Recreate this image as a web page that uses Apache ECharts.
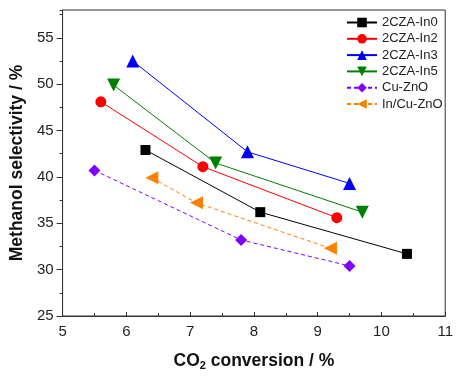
<!DOCTYPE html>
<html><head><meta charset="utf-8">
<script src="https://cdn.jsdelivr.net/npm/echarts@6/dist/echarts.min.js"></script>
<style>html,body{margin:0;padding:0;background:#fff}#c{width:456px;height:376px}</style>
</head><body><div id="c"></div>
<script>
const seriesNames = ['2CZA-In0','2CZA-In2','2CZA-In3','2CZA-In5','Cu-ZnO','In/Cu-ZnO'];
const in0X = [6.3, 8.1, 10.4];  const in0Y = [42.9, 36.2, 31.7];
const in2X = [5.6, 7.2, 9.3];   const in2Y = [48.1, 41.1, 35.6];
const in3X = [6.1, 7.9, 9.5];   const in3Y = [52.5, 42.7, 39.3];
const in5X = [5.8, 7.4, 9.7];   const in5Y = [49.9, 41.5, 36.2];
const cuX  = [5.5, 7.8, 9.5];   const cuY  = [40.7, 33.2, 30.4];
const inCuX = [6.4, 7.1, 9.2];  const inCuY = [39.9, 37.2, 32.3];
const xTicks = [5,6,7,8,9,10,11];
const yTicks = [25,30,35,40,45,50,55];

const pairs = (xs, ys) => xs.map((x,i)=>[x, ys[i]]);
const styles = [
  {color:'#000000', symbol:'rect', size:10, rot:0, dash:'solid'},
  {color:'#ff0000', symbol:'circle', size:11, rot:0, dash:'solid'},
  {color:'#0000ff', symbol:'triangle', size:13, rot:0, dash:'solid'},
  {color:'#008000', symbol:'triangle', size:13, rot:180, dash:'solid'},
  {color:'#8000ff', symbol:'diamond', size:12, rot:0, dash:[4,3]},
  {color:'#ff8000', symbol:'triangle', size:13, rot:90, dash:[4,3]}
];
const data = [pairs(in0X,in0Y), pairs(in2X,in2Y), pairs(in3X,in3Y), pairs(in5X,in5Y), pairs(cuX,cuY), pairs(inCuX,inCuY)];

const FF = '"Liberation Sans", Arial, sans-serif';
const chart = echarts.init(document.getElementById('c'), null, {renderer:'canvas'});
const axisCol = '#333';
chart.setOption({
  animation: false,
  backgroundColor: '#fff',
  textStyle: {fontFamily: FF},
  grid: {left: 62, top: 10, width: 388, height: 312, show: true, borderColor: axisCol, borderWidth: 1, backgroundColor: 'transparent'},
  legend: {
    orient: 'vertical', left: 346, top: 16, padding: 0, itemWidth: 30, itemHeight: 12, itemGap: 3.3,
    data: seriesNames,
    textStyle: {fontSize: 13, color: '#222', fontFamily: FF}
  },
  xAxis: {
    type: 'value', min: 5, max: 11, interval: 1,
    name: '{b|CO}{s|2}{b| conversion / %}', nameLocation: 'middle', nameGap: 35,
    nameTextStyle: {rich: {
      b: {fontSize: 17.5, fontWeight: 'bold', color: '#111', lineHeight: 20, fontFamily: FF},
      s: {fontSize: 11, fontWeight: 'bold', color: '#111', lineHeight: 8, verticalAlign: 'bottom', fontFamily: FF}
    }},
    axisLine: {lineStyle: {color: axisCol, width: 1}},
    axisTick: {inside: true, length: 4, lineStyle: {color: axisCol}},
    minorTick: {show: true, splitNumber: 2, length: 3, lineStyle: {color: axisCol}},
    axisLabel: {fontSize: 15, color: '#222', margin: 8, formatter: v => xTicks.includes(v) ? String(v) : ''},
    splitLine: {show: false}
  },
  yAxis: [{
    type: 'value', min: 25, max: 58, interval: 5,
    name: 'Methanol selectivity / %', nameLocation: 'middle', nameGap: 30,
    nameTextStyle: {fontSize: 17.5, fontWeight: 'bold', color: '#111', fontFamily: FF},
    axisLine: {lineStyle: {color: axisCol, width: 1}},
    axisTick: {inside: false, length: 6, lineStyle: {color: axisCol}},
    axisLabel: {fontSize: 15, color: '#222', margin: 9, showMaxLabel: false, formatter: v => yTicks.includes(v) ? String(v) : ''},
    splitLine: {show: false}
  }, {
    type: 'value', min: 25, max: 58, interval: 2.5, position: 'left', offset: 0,
    axisLine: {show: false},
    axisTick: {inside: false, length: 3, lineStyle: {color: axisCol}},
    axisLabel: {show: false},
    splitLine: {show: false}
  }],
  series: data.map((d, i) => ({
    name: seriesNames[i], type: 'line', data: d, yAxisIndex: 0,
    symbol: styles[i].symbol, symbolSize: styles[i].size, symbolRotate: styles[i].rot,
    lineStyle: {color: styles[i].color, width: 1, type: styles[i].dash},
    itemStyle: {color: styles[i].color},
    z: 2 + i
  }))
});
</script></body></html>
